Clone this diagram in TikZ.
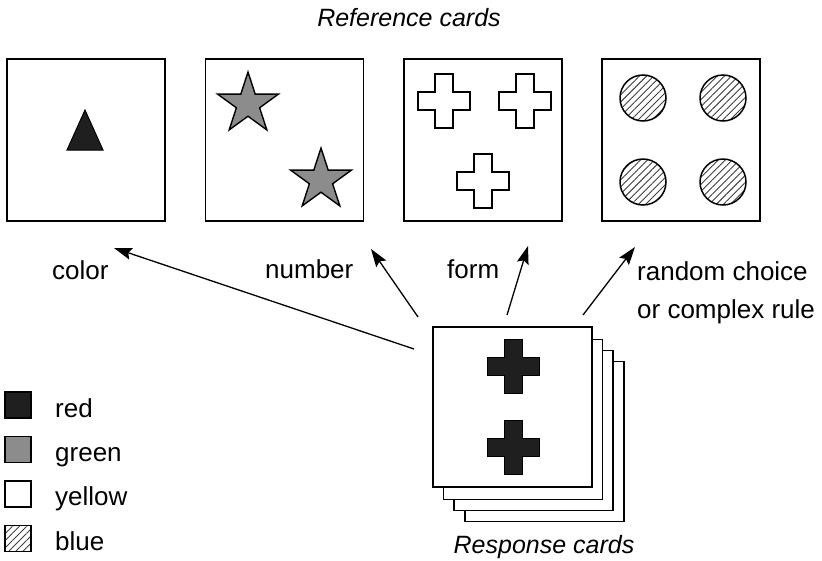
\documentclass[tikz,border=0pt]{standalone}
\usepackage{fontspec}
\setmainfont{Liberation Sans}
\usetikzlibrary{shapes.geometric, patterns.meta, arrows.meta}

\tikzset{
  card/.style={draw, line width=1.6pt, fill=white, minimum width=158pt,
    minimum height=162pt, inner sep=0pt},
  cuetext/.style={font=\fontsize{26}{38}\selectfont, inner sep=0pt, anchor=base west},
  heading/.style={font=\fontsize{25}{30}\selectfont\itshape, inner sep=0pt, anchor=base},
  rulearrow/.style={line width=1.3pt, -{Stealth[length=18pt, width=12pt, inset=3pt]}},
  redfill/.style={fill=black!88},
  greenfill/.style={fill=black!45},
  yellowfill/.style={fill=white},
  bluefill/.style={pattern={Lines[angle=45, distance=5pt, line width=0.9pt]},
    pattern color=black!75},
  swatch/.style={draw, line width=1.2pt, minimum size=26pt, inner sep=0pt},
  starshape/.style={star, star points=5, star point ratio=2.618, minimum size=64pt,
    inner sep=0pt, draw, line width=1.4pt, greenfill},
  plus/.pic={\path[pic actions] (-9,-27) -- (9,-27) -- (9,-9) -- (26,-9) -- (26,9)
    -- (9,9) -- (9,27) -- (-9,27) -- (-9,9) -- (-26,9) -- (-26,-9) -- (-9,-9) -- cycle;}
}

\begin{document}
\begin{tikzpicture}[x=1pt, y=-1pt]
\useasboundingbox (0,0) rectangle (822,560);

% heading over the reference cards
\node[heading] (title) at (409,26) {Reference cards};

% the four reference cards
\node[card] (c1) at (86,140) {};
\node[card] (c2) at (284.5,140) {};
\node[card] (c3) at (483,140) {};
\node[card] (c4) at (681,140) {};

% card 1: one red triangle
\draw[redfill, line width=1pt] (85,110) -- (103,150) -- (67,150) -- cycle;

% card 2: two green stars
\node[starshape] (s1) at (248,104) {};
\node[starshape] (s2) at (321,180) {};

% card 3: three yellow crosses
\pic[draw, yellowfill, line width=1.5pt] at (444,101) {plus};
\pic[draw, yellowfill, line width=1.5pt] at (525,101) {plus};
\pic[draw, yellowfill, line width=1.5pt] at (483,181) {plus};

% card 4: four blue circles
\foreach \cx/\cy in {643/98, 723/98, 643/182, 723/182}
  \draw[bluefill, line width=1.5pt] (\cx,\cy) circle[radius=23];

% stack of response cards
\node[card, minimum width=159pt, minimum height=160pt] (r4) at (544.5,441.5) {};
\node[card, minimum width=159pt, minimum height=160pt] (r3) at (533.5,430.5) {};
\node[card, minimum width=159pt, minimum height=160pt] (r2) at (523,419.5) {};
\node[card, minimum width=159pt, minimum height=160pt] (r1) at (512.5,407) {};
\pic[draw, redfill, line width=1pt] at (513,366) {plus};
\pic[draw, redfill, line width=1pt] at (513,447) {plus};
\node[heading] (resp) at (544,553) {Response cards};

% sorting rules
\coordinate (colortail) at (414,349);
\coordinate (colortip) at (114,248);
\coordinate (numbertail) at (418,317);
\coordinate (numbertip) at (371,249);
\coordinate (formtail) at (507,315);
\coordinate (formtip) at (528,246);
\coordinate (randomtail) at (583,315);
\coordinate (randomtip) at (635,247);
\draw[rulearrow] (colortail) -- (colortip);
\draw[rulearrow] (numbertail) -- (numbertip);
\draw[rulearrow] (formtail) -- (formtip);
\draw[rulearrow] (randomtail) -- (randomtip);

\node[cuetext] (lcolor) at (52,279) {color};
\node[cuetext] (lnumber) at (265,278) {number};
\node[cuetext] (lform) at (447,278) {form};
\node[cuetext, align=left] (lrandom) at (637,318) {random choice\\or complex rule};

% colour key
\node[swatch, redfill] (kred) at (18,405) {};
\node[swatch, greenfill] (kgreen) at (18,449.5) {};
\node[swatch, yellowfill] (kyellow) at (18,494) {};
\node[swatch, bluefill] (kblue) at (18,538.5) {};
\node[cuetext] (tred) at (55,417) {red};
\node[cuetext] (tgreen) at (55,461) {green};
\node[cuetext] (tyellow) at (55,505.5) {yellow};
\node[cuetext] (tblue) at (55,550) {blue};
\end{tikzpicture}
\end{document}
